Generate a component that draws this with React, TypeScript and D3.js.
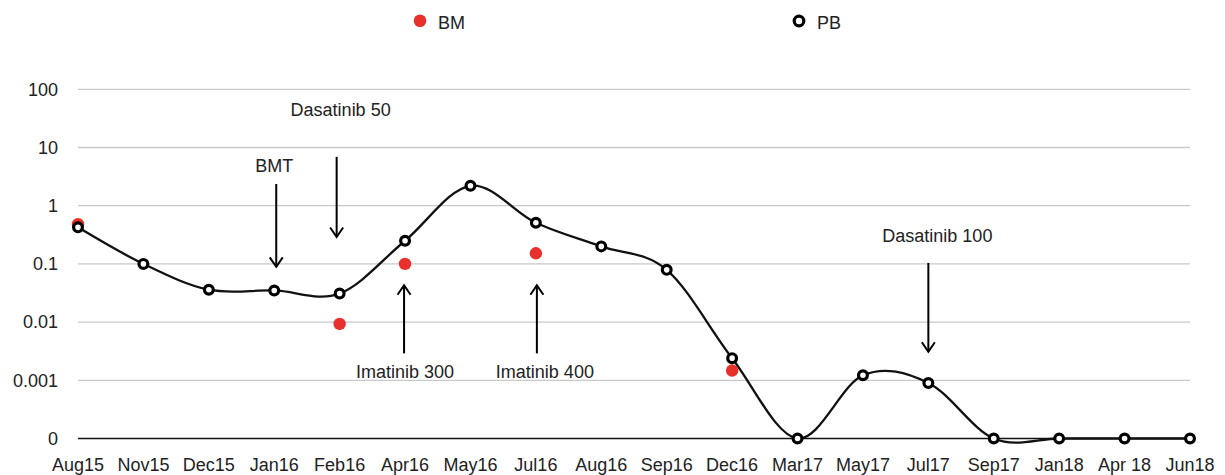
import React, { useEffect, useRef } from 'react';
import * as d3 from 'd3';

const months = ['Aug15', 'Nov15', 'Dec15', 'Jan16', 'Feb16', 'Apr16', 'May16', 'Jul16', 'Aug16',
  'Sep16', 'Dec16', 'Mar17', 'May17', 'Jul17', 'Sep17', 'Jan18', 'Apr 18', 'Jun18'];

// PB values (0 is drawn on the bottom "0" line)
const pbValues = [0.425, 0.1, 0.036, 0.035, 0.031, 0.25, 2.2, 0.51, 0.2,
  0.079, 0.0024, 0, 0.00122, 0.0009, 0, 0, 0, 0];

// BM values, only where measured
const bmMonths = ['Aug15', 'Feb16', 'Apr16', 'Jul16', 'Dec16'];
const bmValues = [0.48, 0.0093, 0.1, 0.152, 0.00147];

const yTickValues = [100, 10, 1, 0.1, 0.01, 0.001, 0.0001];
const yTickLabels = ['100', '10', '1', '0.1', '0.01', '0.001', '0'];

// therapy annotations: text position and arrow start/end in data units
const annotations = [
  { label: 'Dasatinib 50', month: 'Feb16', text: 44, from: 6.9, to: 0.29, dx: -3, tdx: 1 },
  { label: 'BMT', month: 'Jan16', text: 4.8, from: 2.36, to: 0.089, dx: 2, tdx: 0 },
  { label: 'Imatinib 300', month: 'Apr16', text: 0.00139, from: 0.0029, to: 0.043, dx: -1, tdx: 0 },
  { label: 'Imatinib 400', month: 'Jul16', text: 0.00139, from: 0.0029, to: 0.043, dx: 1, tdx: 9 },
  { label: 'Dasatinib 100', month: 'Jul17', text: 0.31, from: 0.104, to: 0.0031, dx: 0, tdx: 9 },
];

const FONT = '"Liberation Sans", Arial, Helvetica, sans-serif';
const FS = 18;
const RED = '#e8302c';

const App = () => {
  const ref = useRef<SVGSVGElement>(null);

  useEffect(() => {
    const svg = d3.select(ref.current);
    svg.selectAll('*').remove();
    const width = 1225;
    const height = 475;
    const margin = { left: 78, right: 35, top: 89.3, bottom: 36.5 };

    const x = d3.scalePoint<string>()
      .domain(months)
      .range([margin.left, width - margin.right]);

    const y = d3.scaleLog()
      .domain([0.0001, 100])
      .range([height - margin.bottom, margin.top]);

    const yv = (v: number) => y(Math.max(v, 0.0001));

    // grid
    const grid = svg.append('g');
    grid.selectAll('line')
      .data(yTickValues)
      .enter()
      .append('line')
      .attr('x1', margin.left)
      .attr('x2', width - margin.right)
      .attr('y1', d => y(d))
      .attr('y2', d => y(d))
      .attr('stroke', d => (d === 0.0001 ? '#111' : '#c9c9c9'))
      .attr('stroke-width', d => (d === 0.0001 ? 1.6 : 1.3));

    // y labels
    svg.append('g')
      .selectAll('text')
      .data(yTickValues)
      .enter()
      .append('text')
      .attr('x', 58)
      .attr('y', d => y(d))
      .attr('dy', '0.35em')
      .attr('text-anchor', 'end')
      .attr('font-family', FONT)
      .attr('font-size', FS)
      .attr('fill', '#222')
      .text((d, i) => yTickLabels[i]);

    // x labels
    svg.append('g')
      .selectAll('text')
      .data(months)
      .enter()
      .append('text')
      .attr('x', d => x(d)!)
      .attr('y', 465)
      .attr('dy', '0.35em')
      .attr('text-anchor', 'middle')
      .attr('font-family', FONT)
      .attr('font-size', FS)
      .attr('fill', '#222')
      .text(d => d);

    // PB line
    const line = d3.line<number>()
      .x((d, i) => x(months[i])!)
      .y(d => yv(d))
      .curve(d3.curveCardinal.tension(0));

    svg.append('path')
      .datum(pbValues)
      .attr('d', line)
      .attr('fill', 'none')
      .attr('stroke', '#111')
      .attr('stroke-width', 2.3);

    // BM dots
    svg.append('g')
      .selectAll('circle')
      .data(bmValues)
      .enter()
      .append('circle')
      .attr('cx', (d, i) => x(bmMonths[i])!)
      .attr('cy', d => yv(d))
      .attr('r', 6.2)
      .attr('fill', RED);

    // PB markers
    svg.append('g')
      .selectAll('circle')
      .data(pbValues)
      .enter()
      .append('circle')
      .attr('cx', (d, i) => x(months[i])!)
      .attr('cy', d => yv(d))
      .attr('r', 4.4)
      .attr('fill', '#fff')
      .attr('stroke', '#000')
      .attr('stroke-width', 3.2);

    // annotations
    const ann = svg.append('g');
    annotations.forEach(a => {
      const ax = x(a.month)! + a.dx;
      const y1 = y(a.from);
      const y2 = y(a.to);
      const dir = y2 > y1 ? 1 : -1;
      ann.append('line')
        .attr('x1', ax).attr('x2', ax)
        .attr('y1', y1).attr('y2', y2)
        .attr('stroke', '#000').attr('stroke-width', 2);
      ann.append('path')
        .attr('d', `M${ax - 6.5},${y2 - dir * 9.5}L${ax},${y2}L${ax + 6.5},${y2 - dir * 9.5}`)
        .attr('fill', 'none')
        .attr('stroke', '#000')
        .attr('stroke-width', 2);
      ann.append('text')
        .attr('x', x(a.month)! + a.tdx)
        .attr('y', y(a.text))
        .attr('dy', '0.35em')
        .attr('text-anchor', 'middle')
        .attr('font-family', FONT)
        .attr('font-size', FS)
        .attr('fill', '#222')
        .text(a.label);
    });

    // legend
    const legend = svg.append('g');
    legend.append('circle')
      .attr('cx', 420).attr('cy', 20.7).attr('r', 6.3).attr('fill', RED);
    legend.append('text')
      .attr('x', 438).attr('y', 23).attr('dy', '0.35em')
      .attr('font-family', FONT).attr('font-size', FS).attr('fill', '#222')
      .text('BM');
    legend.append('circle')
      .attr('cx', 799).attr('cy', 21).attr('r', 4.8)
      .attr('fill', '#fff').attr('stroke', '#000').attr('stroke-width', 3.2);
    legend.append('text')
      .attr('x', 817).attr('y', 23).attr('dy', '0.35em')
      .attr('font-family', FONT).attr('font-size', FS).attr('fill', '#222')
      .text('PB');
  }, []);

  return (
    <svg
      ref={ref}
      width={1225}
      height={475}
      style={{ position: 'absolute', left: 0, top: 0, display: 'block', background: '#fff' }}
    />
  );
};

export default App;
